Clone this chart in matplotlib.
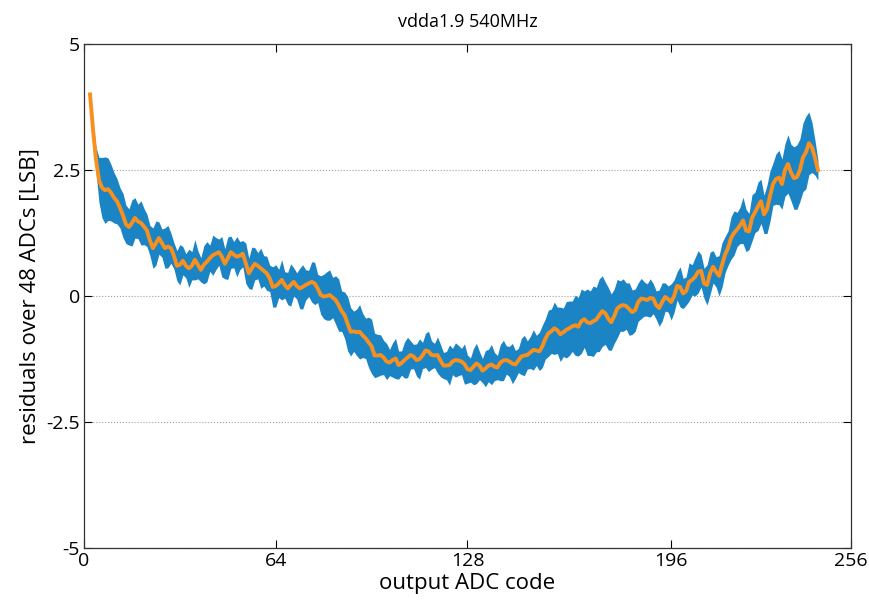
import numpy as np
import matplotlib
matplotlib.use("Agg")
import matplotlib.pyplot as plt

# ---- data ----
code_start = 2
mean_vals = [
    4.00, 3.30, 2.70, 2.30, 2.15, 2.10, 2.12, 2.05, 1.95,                      # 2-10
    1.88, 1.75, 1.60, 1.42, 1.37, 1.45, 1.55, 1.48, 1.45, 1.38,                # 11-20
    1.30, 1.10, 0.95, 1.05, 1.15, 1.05, 0.95, 0.98, 0.95, 0.80,                # 21-30
    0.60, 0.62, 0.70, 0.60, 0.55, 0.60, 0.72, 0.62, 0.52, 0.62,                # 31-40
    0.68, 0.75, 0.81, 0.84, 0.87, 0.78, 0.64, 0.75, 0.87, 0.82,                # 41-50
    0.78, 0.80, 0.84, 0.65, 0.45, 0.55, 0.64, 0.60, 0.55, 0.50,                # 51-60
    0.45, 0.35, 0.18, 0.20, 0.25, 0.32, 0.22, 0.15, 0.22, 0.28,                # 61-70
    0.20, 0.15, 0.18, 0.22, 0.25, 0.28, 0.25, 0.15, 0.02, -0.01,               # 71-80
    0.00, 0.02, -0.03, -0.08, -0.18, -0.30, -0.38, -0.55, -0.71, -0.70,        # 81-90
    -0.72, -0.71, -0.78, -0.84, -0.92, -1.00, -1.18, -1.18, -1.17, -1.22,      # 91-100
    -1.30, -1.32, -1.27, -1.24, -1.37, -1.33, -1.27, -1.22, -1.17, -1.20,      # 101-110
    -1.27, -1.25, -1.18, -1.08, -1.10, -1.17, -1.18, -1.17, -1.28, -1.38,      # 111-120
    -1.38, -1.37, -1.30, -1.27, -1.28, -1.30, -1.35, -1.45, -1.47, -1.40,      # 121-130
    -1.34, -1.38, -1.48, -1.44, -1.38, -1.36, -1.40, -1.42, -1.32, -1.28,      # 131-140
    -1.27, -1.30, -1.34, -1.36, -1.28, -1.20, -1.18, -1.17, -1.12, -1.07,      # 141-150
    -1.08, -1.10, -1.00, -0.85, -0.74, -0.70, -0.64, -0.68, -0.76, -0.72,      # 151-160
    -0.67, -0.64, -0.60, -0.58, -0.61, -0.50, -0.46, -0.52, -0.54, -0.50,      # 161-170
    -0.47, -0.38, -0.30, -0.34, -0.45, -0.52, -0.40, -0.25, -0.20, -0.18,      # 171-180
    -0.20, -0.26, -0.32, -0.28, -0.12, -0.05, -0.06, -0.08, -0.04, -0.05,      # 181-190
    -0.18, -0.24, -0.12, -0.02, -0.06, -0.12, 0.00, 0.20, 0.18, 0.05,          # 191-200
    0.10, 0.28, 0.32, 0.38, 0.48, 0.50, 0.25, 0.22, 0.45, 0.58,                # 201-210
    0.48, 0.40, 0.62, 0.82, 0.95, 1.15, 1.25, 1.32, 1.40, 1.50,                # 211-220
    1.30, 1.28, 1.55, 1.66, 1.78, 1.88, 1.62, 1.72, 1.98, 2.22,                # 221-230
    2.32, 2.35, 2.22, 2.50, 2.62, 2.45, 2.34, 2.36, 2.50, 2.75,                # 231-240
    2.85, 3.03, 2.95, 2.75, 2.50,                                              # 241-245
]
half_width = [
    0.05, 0.15, 0.25, 0.45, 0.60, 0.66, 0.62, 0.56, 0.50,                      # 2-10
    0.45, 0.40, 0.44, 0.38, 0.36, 0.46, 0.40, 0.34, 0.44, 0.36,                # 11-20
    0.32, 0.30, 0.40, 0.44, 0.32, 0.28, 0.40, 0.42, 0.30, 0.26,                # 21-30
    0.30, 0.40, 0.28, 0.24, 0.38, 0.28, 0.40, 0.28, 0.24, 0.38,                # 31-40
    0.40, 0.26, 0.40, 0.32, 0.26, 0.40, 0.30, 0.42, 0.32, 0.26,                # 41-50
    0.40, 0.28, 0.26, 0.40, 0.30, 0.42, 0.32, 0.26, 0.40, 0.30,                # 51-60
    0.34, 0.26, 0.40, 0.42, 0.28, 0.40, 0.26, 0.32, 0.42, 0.28,                # 61-70
    0.26, 0.40, 0.44, 0.30, 0.26, 0.40, 0.42, 0.28, 0.38, 0.44,                # 71-80
    0.48, 0.50, 0.40, 0.48, 0.52, 0.40, 0.46, 0.54, 0.48, 0.40,                # 81-90
    0.46, 0.54, 0.44, 0.40, 0.50, 0.54, 0.44, 0.42, 0.40, 0.34,                # 91-100
    0.36, 0.26, 0.34, 0.40, 0.28, 0.24, 0.36, 0.40, 0.28, 0.24,                # 101-110
    0.32, 0.40, 0.26, 0.34, 0.40, 0.28, 0.24, 0.36, 0.32, 0.26,                # 111-120
    0.28, 0.40, 0.26, 0.34, 0.30, 0.26, 0.40, 0.28, 0.24, 0.36,                # 121-130
    0.40, 0.28, 0.24, 0.36, 0.32, 0.40, 0.28, 0.24, 0.36, 0.40,                # 131-140
    0.28, 0.30, 0.40, 0.28, 0.24, 0.36, 0.40, 0.28, 0.32, 0.40,                # 141-150
    0.30, 0.38, 0.42, 0.40, 0.46, 0.44, 0.52, 0.46, 0.54, 0.48,                # 151-160
    0.56, 0.54, 0.50, 0.60, 0.58, 0.64, 0.56, 0.66, 0.64, 0.70,                # 161-170
    0.64, 0.72, 0.70, 0.62, 0.62, 0.56, 0.54, 0.58, 0.50, 0.52,                # 171-180
    0.46, 0.52, 0.44, 0.42, 0.38, 0.40, 0.34, 0.32, 0.38, 0.30,                # 181-190
    0.28, 0.36, 0.38, 0.28, 0.26, 0.36, 0.32, 0.28, 0.40, 0.30,                # 191-200
    0.28, 0.38, 0.30, 0.38, 0.42, 0.32, 0.30, 0.40, 0.42, 0.32,                # 201-210
    0.30, 0.40, 0.44, 0.36, 0.34, 0.42, 0.44, 0.34, 0.36, 0.46,                # 211-220
    0.42, 0.36, 0.46, 0.40, 0.48, 0.44, 0.38, 0.48, 0.50, 0.42,                # 221-230
    0.50, 0.54, 0.50, 0.52, 0.58, 0.56, 0.62, 0.64, 0.62, 0.68,                # 231-240
    0.72, 0.62, 0.50, 0.35, 0.20,                                              # 241-245
]
x_ticks = [0, 64, 128, 196, 256]
y_ticks = [-5, -2.5, 0, 2.5, 5]
y_tick_labels = ["-5", "-2.5", "0", "2.5", "5"]
title = "vdda1.9 540MHz"
x_label = "output ADC code"
y_label = "residuals over 48 ADCs [LSB]"

codes = np.arange(code_start, code_start + len(mean_vals))
mean_arr = np.array(mean_vals)
hw_arr = np.array(half_width)

plt.rcParams['font.family'] = ['Open Sans', 'DejaVu Sans']

fig = plt.figure(figsize=(8.7, 6.07), dpi=100)
ax = fig.add_axes([0.0966, 0.0972, 0.8814, 0.8303])

ax.fill_between(codes, mean_arr - hw_arr, mean_arr + hw_arr,
                color='#1b84c5', linewidth=0)
ax.plot(codes, mean_arr, color='#f7901e', linewidth=2.8)

ax.set_xlim(0, 256)
ax.set_ylim(-5, 5)
ax.set_xticks(x_ticks)
ax.set_xticklabels([str(t) for t in x_ticks])
ax.set_yticks(y_ticks)
ax.set_yticklabels(y_tick_labels)
ax.yaxis.grid(True, linestyle=':', color='#a0a0a0', linewidth=0.8)
ax.set_axisbelow(True)
ax.tick_params(direction='in', top=True, right=True, length=6,
               labelsize=14, width=0.8, pad=3)
for s in ax.spines.values():
    s.set_linewidth(0.9)
    s.set_color('#333333')

ax.set_title(title, fontsize=13, pad=12)
ax.set_xlabel(x_label, fontsize=16, labelpad=2)
ax.set_ylabel(y_label, fontsize=16, labelpad=4)

fig.savefig("out.png", dpi=100)
